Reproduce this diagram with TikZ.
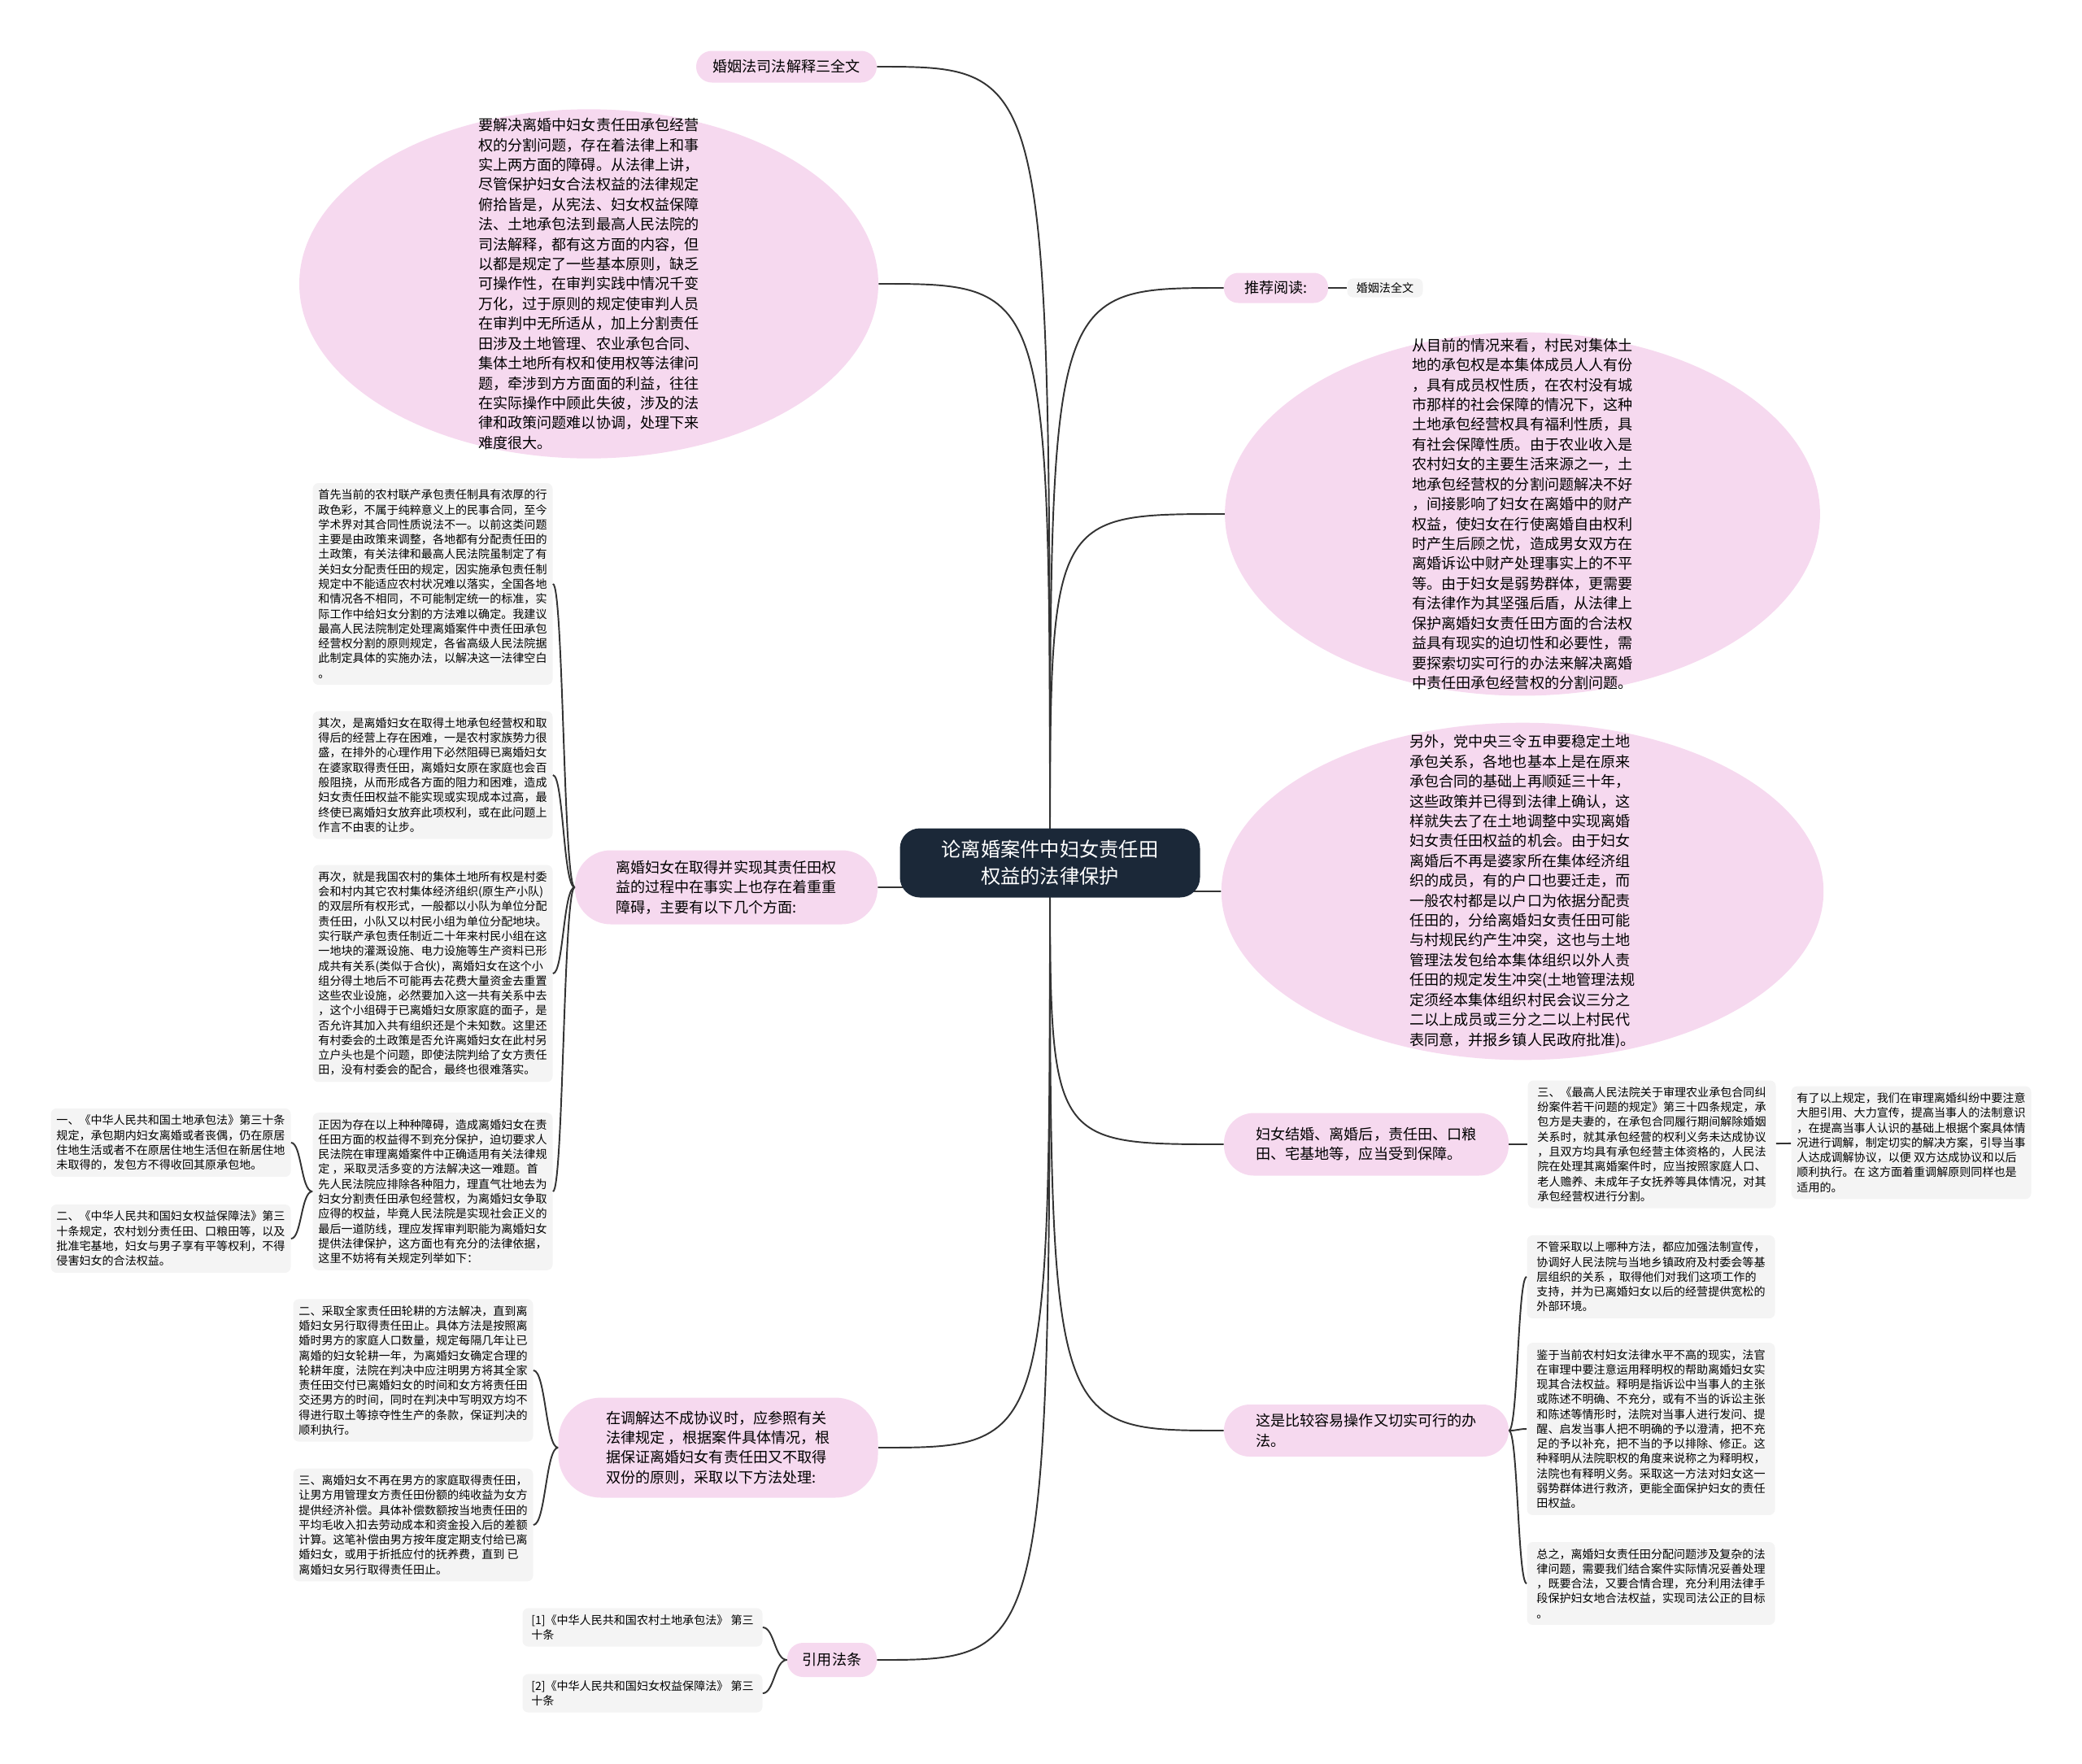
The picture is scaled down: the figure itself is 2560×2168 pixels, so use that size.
\documentclass[tikz,border=0pt]{standalone}
\usepackage{fontspec}
\setmainfont{Noto Sans CJK SC}
\usepackage{tikz}
\usetikzlibrary{positioning, backgrounds, shapes.geometric}
\definecolor{hubnavy}{HTML}{1B2838}
\definecolor{topicpink}{HTML}{F6D9EF}
\definecolor{leafgray}{HTML}{F4F4F4}
\definecolor{linkgray}{HTML}{333333}
\newcommand{\px}{0.02cm}

\tikzset{
  hub/.style={fill=hubnavy, text=white, rounded corners=14pt, align=center,
    font=\fontsize{13.8pt}{18.6pt}\selectfont, minimum width=369*\px, minimum height=85*\px},
  topic/.style={fill=topicpink, align=left, font=\fontsize{10.3pt}{13.9pt}\selectfont},
  blob/.style={ellipse, fill=topicpink, align=left, font=\fontsize{10.3pt}{13.9pt}\selectfont},
  leaf/.style={fill=leafgray, rounded corners=4pt, align=left, inner ysep=8*\px,
    font=\fontsize{8pt}{10.4pt}\selectfont, minimum width=295*\px},
  link/.style={draw=linkgray, line width=1.1pt},
}

\begin{document}
\begin{tikzpicture}[x=\px, y=-\px]
    \useasboundingbox (0,0) rectangle (2560,2168);

    % 中心
    \node[hub] (hub) at (1291,1061) {论离婚案件中妇女责任田\\权益的法律保护};

    % 左侧主题
    \node[topic, minimum width=222*\px, minimum height=39*\px, rounded corners=11pt] (judicial) at (967,82) {婚姻法司法解释三全文};
    \node[blob, inner xsep=116*\px, inner ysep=-52*\px] (obstacle) at (724,349) {要解决离婚中妇女责任田承包经营\\权的分割问题，存在着法律上和事\\实上两方面的障碍。从法律上讲，\\尽管保护妇女合法权益的法律规定\\俯拾皆是，从宪法、妇女权益保障\\法、土地承包法到最高人民法院的\\司法解释，都有这方面的内容，但\\以都是规定了一些基本原则，缺乏\\可操作性，在审判实践中情况千变\\万化，过于原则的规定使审判人员\\在审判中无所适从，加上分割责任\\田涉及土地管理、农业承包合同、\\集体土地所有权和使用权等法律问\\题，牵涉到方方面面的利益，往往\\在实际操作中顾此失彼，涉及的法\\律和政策问题难以协调，处理下来\\难度很大。};
    \node[topic, minimum width=372*\px, minimum height=91*\px, rounded corners=25pt] (hurdles) at (893,1091) {离婚妇女在取得并实现其责任田权\\益的过程中在事实上也存在着重重\\障碍，主要有以下几个方面:};
    \node[topic, minimum width=393*\px, minimum height=123*\px, rounded corners=30pt] (settle) at (883,1780) {在调解达不成协议时，应参照有关\\法律规定 ，根据案件具体情况，根\\据保证离婚妇女有责任田又不取得\\双份的原则，采取以下方法处理:};
    \node[topic, minimum width=110*\px, minimum height=42*\px, rounded corners=11pt] (cite) at (1023,2041) {引用法条};

    % 左侧叶子
    \node[leaf] (first) at (532,718) {首先当前的农村联产承包责任制具有浓厚的行\\政色彩，不属于纯粹意义上的民事合同，至今\\学术界对其合同性质说法不一。以前这类问题\\主要是由政策来调整，各地都有分配责任田的\\土政策，有关法律和最高人民法院虽制定了有\\关妇女分配责任田的规定，因实施承包责任制\\规定中不能适应农村状况难以落实，全国各地\\和情况各不相同，不可能制定统一的标准，实\\际工作中给妇女分割的方法难以确定。我建议\\最高人民法院制定处理离婚案件中责任田承包\\经营权分割的原则规定，各省高级人民法院据\\此制定具体的实施办法，以解决这一法律空白\\。};
    \node[leaf] (second) at (532,953) {其次，是离婚妇女在取得土地承包经营权和取\\得后的经营上存在困难，一是农村家族势力很\\盛，在排外的心理作用下必然阻碍已离婚妇女\\在婆家取得责任田，离婚妇女原在家庭也会百\\般阻挠，从而形成各方面的阻力和困难，造成\\妇女责任田权益不能实现或实现成本过高，最\\终使已离婚妇女放弃此项权利，或在此问题上\\作言不由衷的让步。};
    \node[leaf] (third) at (532,1197) {再次，就是我国农村的集体土地所有权是村委\\会和村内其它农村集体经济组织(原生产小队)\\的双层所有权形式，一般都以小队为单位分配\\责任田，小队又以村民小组为单位分配地块。\\实行联产承包责任制近二十年来村民小组在这\\一地块的灌溉设施、电力设施等生产资料已形\\成共有关系(类似于合伙)，离婚妇女在这个小\\组分得土地后不可能再去花费大量资金去重置\\这些农业设施，必然要加入这一共有关系中去\\，这个小组碍于已离婚妇女原家庭的面子，是\\否允许其加入共有组织还是个未知数。这里还\\有村委会的土政策是否允许离婚妇女在此村另\\立户头也是个问题，即使法院判给了女方责任\\田，没有村委会的配合，最终也很难落实。};
    \node[leaf] (fourth) at (532,1465) {正因为存在以上种种障碍，造成离婚妇女在责\\任田方面的权益得不到充分保护，迫切要求人\\民法院在审理离婚案件中正确适用有关法律规\\定 ，采取灵活多变的方法解决这一难题。首\\先人民法院应排除各种阻力，理直气壮地去为\\妇女分割责任田承包经营权，为离婚妇女争取\\应得的权益，毕竟人民法院是实现社会正义的\\最后一道防线，理应发挥审判职能为离婚妇女\\提供法律保护，这方面也有充分的法律依据，\\这里不妨将有关规定列举如下：};
    \node[leaf] (law1) at (210,1405) {一、《中华人民共和国土地承包法》第三十条\\规定，承包期内妇女离婚或者丧偶，仍在原居\\住地生活或者不在原居住地生活但在新居住地\\未取得的，发包方不得收回其原承包地。};
    \node[leaf] (law2) at (210,1523) {二、《中华人民共和国妇女权益保障法》第三\\十条规定，农村划分责任田、口粮田等，以及\\批准宅基地，妇女与男子享有平等权利，不得\\侵害妇女的合法权益。};
    \node[leaf] (rotate) at (508,1685) {二、采取全家责任田轮耕的方法解决，直到离\\婚妇女另行取得责任田止。具体方法是按照离\\婚时男方的家庭人口数量，规定每隔几年让已\\离婚的妇女轮耕一年，为离婚妇女确定合理的\\轮耕年度，法院在判决中应注明男方将其全家\\责任田交付已离婚妇女的时间和女方将责任田\\交还男方的时间，同时在判决中写明双方均不\\得进行取土等掠夺性生产的条款，保证判决的\\顺利执行。};
    \node[leaf] (compensate) at (508,1875) {三、离婚妇女不再在男方的家庭取得责任田，\\让男方用管理女方责任田份额的纯收益为女方\\提供经济补偿。具体补偿数额按当地责任田的\\平均毛收入扣去劳动成本和资金投入后的差额\\计算。这笔补偿由男方按年度定期支付给已离\\婚妇女，或用于折抵应付的抚养费，直到 已\\离婚妇女另行取得责任田止。};
    \node[leaf] (cite1) at (790,2001) {[1]《中华人民共和国农村土地承包法》 第三\\十条};
    \node[leaf] (cite2) at (790,2082) {[2]《中华人民共和国妇女权益保障法》 第三\\十条};

    % 右侧主题
    \node[topic, minimum width=128*\px, minimum height=37*\px, rounded corners=10pt] (recommend) at (1569,354) {推荐阅读:};
    \node[leaf, minimum width=93*\px, inner ysep=5*\px] (marriage) at (1703,354) {婚姻法全文};
    \node[blob, inner xsep=123*\px, inner ysep=-58*\px] (welfare) at (1872,632) {从目前的情况来看，村民对集体土\\地的承包权是本集体成员人人有份\\，具有成员权性质，在农村没有城\\市那样的社会保障的情况下，这种\\土地承包经营权具有福利性质，具\\有社会保障性质。由于农业收入是\\农村妇女的主要生活来源之一，土\\地承包经营权的分割问题解决不好\\，间接影响了妇女在离婚中的财产\\权益，使妇女在行使离婚自由权利\\时产生后顾之忧，造成男女双方在\\离婚诉讼中财产处理事实上的不平\\等。由于妇女是弱势群体，更需要\\有法律作为其坚强后盾，从法律上\\保护离婚妇女责任田方面的合法权\\益具有现实的迫切性和必要性，需\\要探索切实可行的办法来解决离婚\\中责任田承包经营权的分割问题。};
    \node[blob, inner xsep=123*\px, inner ysep=-46*\px] (policy) at (1872,1096) {另外，党中央三令五申要稳定土地\\承包关系，各地也基本上是在原来\\承包合同的基础上再顺延三十年，\\这些政策并已得到法律上确认，这\\样就失去了在土地调整中实现离婚\\妇女责任田权益的机会。由于妇女\\离婚后不再是婆家所在集体经济组\\织的成员，有的户口也要迁走，而\\一般农村都是以户口为依据分配责\\任田的，分给离婚妇女责任田可能\\与村规民约产生冲突，这也与土地\\管理法发包给本集体组织以外人责\\任田的规定发生冲突(土地管理法规\\定须经本集体组织村民会议三分之\\二以上成员或三分之二以上村民代\\表同意，并报乡镇人民政府批准)。};
    \node[topic, minimum width=350*\px, minimum height=77*\px, rounded corners=21pt] (equal) at (1680,1407) {妇女结婚、离婚后，责任田、口粮\\田、宅基地等，应当受到保障。};
    \node[topic, minimum width=350*\px, minimum height=64*\px, rounded corners=18pt] (feasible) at (1680,1759) {这是比较容易操作又切实可行的办\\法。};

    % 右侧叶子
    \node[leaf, minimum width=305*\px] (scjudge) at (2031,1407) {三、《最高人民法院关于审理农业承包合同纠\\纷案件若干问题的规定》第三十四条规定，承\\包方是夫妻的，在承包合同履行期间解除婚姻\\关系时，就其承包经营的权利义务未达成协议\\，且双方均具有承包经营主体资格的，人民法\\院在处理其离婚案件时，应当按照家庭人口、\\老人赡养、未成年子女抚养等具体情况，对其\\承包经营权进行分割。};
    \node[leaf] (mediate) at (2350,1405) {有了以上规定，我们在审理离婚纠纷中要注意\\大胆引用、大力宣传，提高当事人的法制意识\\，在提高当事人认识的基础上根据个案具体情\\况进行调解，制定切实的解决方案，引导当事\\人达成调解协议，以便 双方达成协议和以后\\顺利执行。在 这方面着重调解原则同样也是\\适用的。};
    \node[leaf, minimum width=305*\px] (publicity) at (2030,1570) {不管采取以上哪种方法，都应加强法制宣传，\\协调好人民法院与当地乡镇政府及村委会等基\\层组织的关系 ，取得他们对我们这项工作的\\支持，并为已离婚妇女以后的经营提供宽松的\\外部环境。};
    \node[leaf, minimum width=305*\px] (clarify) at (2030,1757) {鉴于当前农村妇女法律水平不高的现实，法官\\在审理中要注意运用释明权的帮助离婚妇女实\\现其合法权益。释明是指诉讼中当事人的主张\\或陈述不明确、不充分，或有不当的诉讼主张\\和陈述等情形时，法院对当事人进行发问、提\\醒、启发当事人把不明确的予以澄清，把不充\\足的予以补充，把不当的予以排除、修正。这\\种释明从法院职权的角度来说称之为释明权，\\法院也有释明义务。采取这一方法对妇女这一\\弱势群体进行救济，更能全面保护妇女的责任\\田权益。};
    \node[leaf, minimum width=305*\px] (summary) at (2030,1947) {总之，离婚妇女责任田分配问题涉及复杂的法\\律问题，需要我们结合案件实际情况妥善处理\\，既要合法，又要合情合理，充分利用法律手\\段保护妇女地合法权益，实现司法公正的目标\\。};

    % 连线
    \begin{scope}[on background layer]
        \foreach \t in {judicial, obstacle, hurdles, settle, cite}
            \draw[link] (hub.center) .. controls (hub.center |- \t.east) .. (\t.east);
        \foreach \t in {recommend, welfare, policy, equal, feasible}
            \draw[link] (hub.center) .. controls (hub.center |- \t.west) .. (\t.west);
    \end{scope}
    \foreach \c in {first, second, third, fourth}
        \draw[link] (hurdles.west) .. controls +(-14,0) and +(13,0) .. (\c.east);
    \foreach \c in {law1, law2}
        \draw[link] (fourth.west) .. controls +(-14,0) and +(13,0) .. (\c.east);
    \foreach \c in {rotate, compensate}
        \draw[link] (settle.west) .. controls +(-15,0) and +(15,0) .. (\c.east);
    \foreach \c in {cite1, cite2}
        \draw[link] (cite.west) .. controls +(-15,0) and +(14,0) .. (\c.east);
    \foreach \c in {publicity, clarify, summary}
        \draw[link] (feasible.east) .. controls +(11,0) and +(-11,0) .. (\c.west);
    \draw[link] (recommend) -- (marriage);
    \draw[link] (equal) -- (scjudge);
    \draw[link] (scjudge) -- (mediate);
\end{tikzpicture}
\end{document}
